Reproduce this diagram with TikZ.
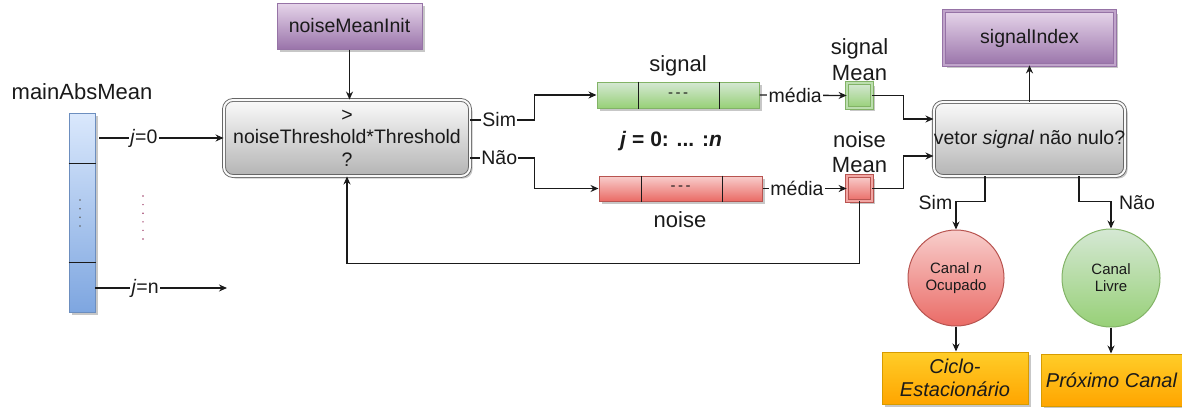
\documentclass[tikz,border=0pt]{standalone}
\usepackage{fontspec}
\setmainfont{Liberation Sans}
\usetikzlibrary{arrows.meta,shadows,calc}

\definecolor{blueT}{HTML}{DAE8FC}\definecolor{blueB}{HTML}{7EA6E0}\definecolor{blueD}{HTML}{6C8EBF}
\definecolor{greenT}{HTML}{D5E8D4}\definecolor{greenB}{HTML}{97D077}\definecolor{greenD}{HTML}{82B366}
\definecolor{redT}{HTML}{F8CECC}\definecolor{redB}{HTML}{EA6B66}\definecolor{redD}{HTML}{B85450}
\definecolor{purT}{HTML}{E6D5EA}\definecolor{purB}{HTML}{9A74AA}\definecolor{purD}{HTML}{9673A6}
\definecolor{oraT}{HTML}{FFCD28}\definecolor{oraB}{HTML}{FFA500}\definecolor{oraD}{HTML}{D79B00}
\definecolor{grayT}{HTML}{FAFAFA}\definecolor{grayB}{HTML}{B4B4B4}\definecolor{grayD}{HTML}{666666}
\definecolor{ink}{HTML}{1A1A1A}
\definecolor{dotred}{HTML}{A0406A}

\newcommand\fsMain{\fontsize{19.5}{22.5}\selectfont}
\newcommand\fsBig{\fontsize{22}{26}\selectfont}
\newcommand\fsSmall{\fontsize{15}{17}\selectfont}

\tikzset{
  every node/.style={font=\fsMain, text=ink, inner sep=0pt},
  shd/.style={drop shadow={shadow xshift=2.5pt,shadow yshift=-2.5pt,opacity=0.22,fill=black}},
  cellbox/.style={rectangle, line width=1pt, shd},
  bluevec/.style={cellbox, top color=blueT, bottom color=blueB, draw=blueD},
  greenvec/.style={cellbox, top color=greenT, bottom color=greenB, draw=greenD},
  redvec/.style={cellbox, top color=redT, bottom color=redB, draw=redD},
  purbox/.style={cellbox, top color=purT, bottom color=purB, draw=purD},
  orabox/.style={cellbox, top color=oraT, bottom color=oraB, draw=oraD},
  dbl/.style={double distance=1.6pt, line width=0.8pt},
  decision/.style={rectangle, rounded corners=9pt, draw=grayD, double=grayT, double distance=2pt,
    line width=0.9pt, top color=grayT, bottom color=grayB, shd, align=center},
  state/.style={circle, line width=1pt, align=center, font=\fsSmall},
  divider/.style={line width=1pt, draw=ink},
  ln/.style={line width=1.3pt, draw=ink},
  arr/.style={ln, -{Stealth[length=8pt,width=7pt]}},
  lbl/.style={fill=white, inner sep=1.2pt},
}

\begin{document}
\begin{tikzpicture}[x=1pt,y=-1pt]
\useasboundingbox (0,0) rectangle (1182,407);

% input vector
\node[font=\fsBig] (title) at (82,92) {mainAbsMean};
\node[bluevec, minimum width=26pt, minimum height=199pt] (col) at (82,212.5) {};
\draw[divider] (col.west |- 0,163) -- (col.east |- 0,163);
\draw[divider] (col.west |- 0,262) -- (col.east |- 0,262);
\foreach \yy in {200,208.7,217.3,226}
  \fill[ink!70] (80,\yy) circle[radius=0.9pt];
\foreach \yy in {196,204.6,213.2,221.8,230.4,239}
  \fill[dotred] (143,\yy) circle[radius=0.8pt];

% threshold test
\node[purbox, minimum width=145pt, minimum height=46pt] (init) at (349.5,26) {noiseMeanInit};
\node[decision, minimum width=246pt, minimum height=76pt] (dec1) at (347,138)
  {>\\noiseThreshold*Threshold\\?};

\coordinate (j0) at (99,138);
\coordinate (jn0) at (95,288);
\coordinate (jn1) at (227,288);
\draw[arr] (j0) -- node[lbl,pos=0.36] {\textit{j}=0} (dec1.west);
\draw[arr] (jn0) -- node[lbl,pos=0.38] {\textit{j}=n} (jn1);
\draw[arr] (init.south) -- (init.south |- dec1.north);

% signal and noise vectors
\node[greenvec, minimum width=162pt, minimum height=26pt, font=\fsSmall] (sig) at (678,95) {-\,-\,-};
\draw[divider] (sig.north -| 638,0) -- (sig.south -| 638,0);
\draw[divider] (sig.north -| 719,0) -- (sig.south -| 719,0);
\node[font=\fsBig] (siglbl) at (678,66) {signal};

\node[redvec, minimum width=163pt, minimum height=25pt, font=\fsSmall] (noi) at (680.5,188.5) {-\,-\,-};
\draw[divider] (noi.north -| 641,0) -- (noi.south -| 641,0);
\draw[divider] (noi.north -| 722,0) -- (noi.south -| 722,0);
\node[font=\fsBig] (noilbl) at (680,220) {noise};

\node[font=\fontsize{21}{26}\selectfont\bfseries] (jlbl) at (671,141) {\textit{j} = 0: ... :\textit{n}};

\draw[arr] (dec1.east |- 0,120) -- node[lbl,pos=0.45] {Sim} ++(64,0) |- (sig.west);
\draw[arr] (dec1.east |- 0,158) -- node[lbl,pos=0.45] {Não} ++(64,0) |- (noi.west);

% means
\node[greenvec, dbl, draw=greenD, double=greenT!60!greenB, minimum size=25pt] (sigMean) at (859.5,95.5) {};
\node[redvec, dbl, draw=redD, double=redT!60!redB, minimum size=25pt] (noiMean) at (859.5,188.5) {};
\node[font=\fsBig, align=center, anchor=south, yshift=2pt] (sigMeanLbl) at (sigMean.north) {signal\\Mean};
\node[font=\fontsize{22}{25}\selectfont, align=center, anchor=south, yshift=3pt] (noiMeanLbl) at (noiMean.north) {noise\\Mean};

\draw[arr] (sig.east) -- node[lbl,pos=0.41] {média} (sigMean.west);
\draw[arr] (noi.east) -- node[lbl,pos=0.41] {média} (noiMean.west);

% decision on the signal vector
\node[decision, minimum width=185pt, minimum height=74pt] (dec2) at (1029.5,139)
  {vetor \textit{signal} não nulo?};
\node[purbox, dbl, double=purT!50!purB, minimum width=171pt, minimum height=54pt] (sidx) at (1029.5,38) {signalIndex};

\draw[arr] (sigMean.east) -- ++(31,0) |- ([yshift=20pt]dec2.west);
\draw[arr] (noiMean.east) -- ++(31,0) |- ([yshift=-17pt]dec2.west);
\draw[arr] (dec2.north) -- (sidx.south);
\draw[arr] (noiMean.south) -- ++(0,62) -| (dec1.south);

% outcomes
\node[state, top color=redT, bottom color=redB, draw=redD, minimum size=96pt] (c1) at (956,278)
  {Canal \textit{n}\\Ocupado};
\node[state, top color=greenT, bottom color=greenB, draw=greenD, minimum size=98pt] (c2) at (1111,278)
  {Canal\\Livre};

\draw[arr] ([xshift=-44.5pt]dec2.south) -- ++(0,25) -| (c1.north);
\draw[arr] ([xshift=49.5pt]dec2.south) -- ++(0,25) -| (c2.north);
\node (simlbl) at (935.5,203) {Sim};
\node (naolbl) at (1137,203) {Não};

\node[orabox, minimum width=146pt, minimum height=52pt, align=center,
  font=\fontsize{20}{23}\selectfont\itshape] (o1) at (955,378) {Ciclo-\\Estacionário};
\node[orabox, minimum width=141pt, minimum height=52pt,
  font=\fontsize{20}{23}\selectfont\itshape] (o2) at (1111.5,380) {Próximo Canal};

\draw[arr] (c1.south) -- (c1.south |- o1.north);
\draw[arr] (c2.south) -- (c2.south |- o2.north);
\end{tikzpicture}
\end{document}
